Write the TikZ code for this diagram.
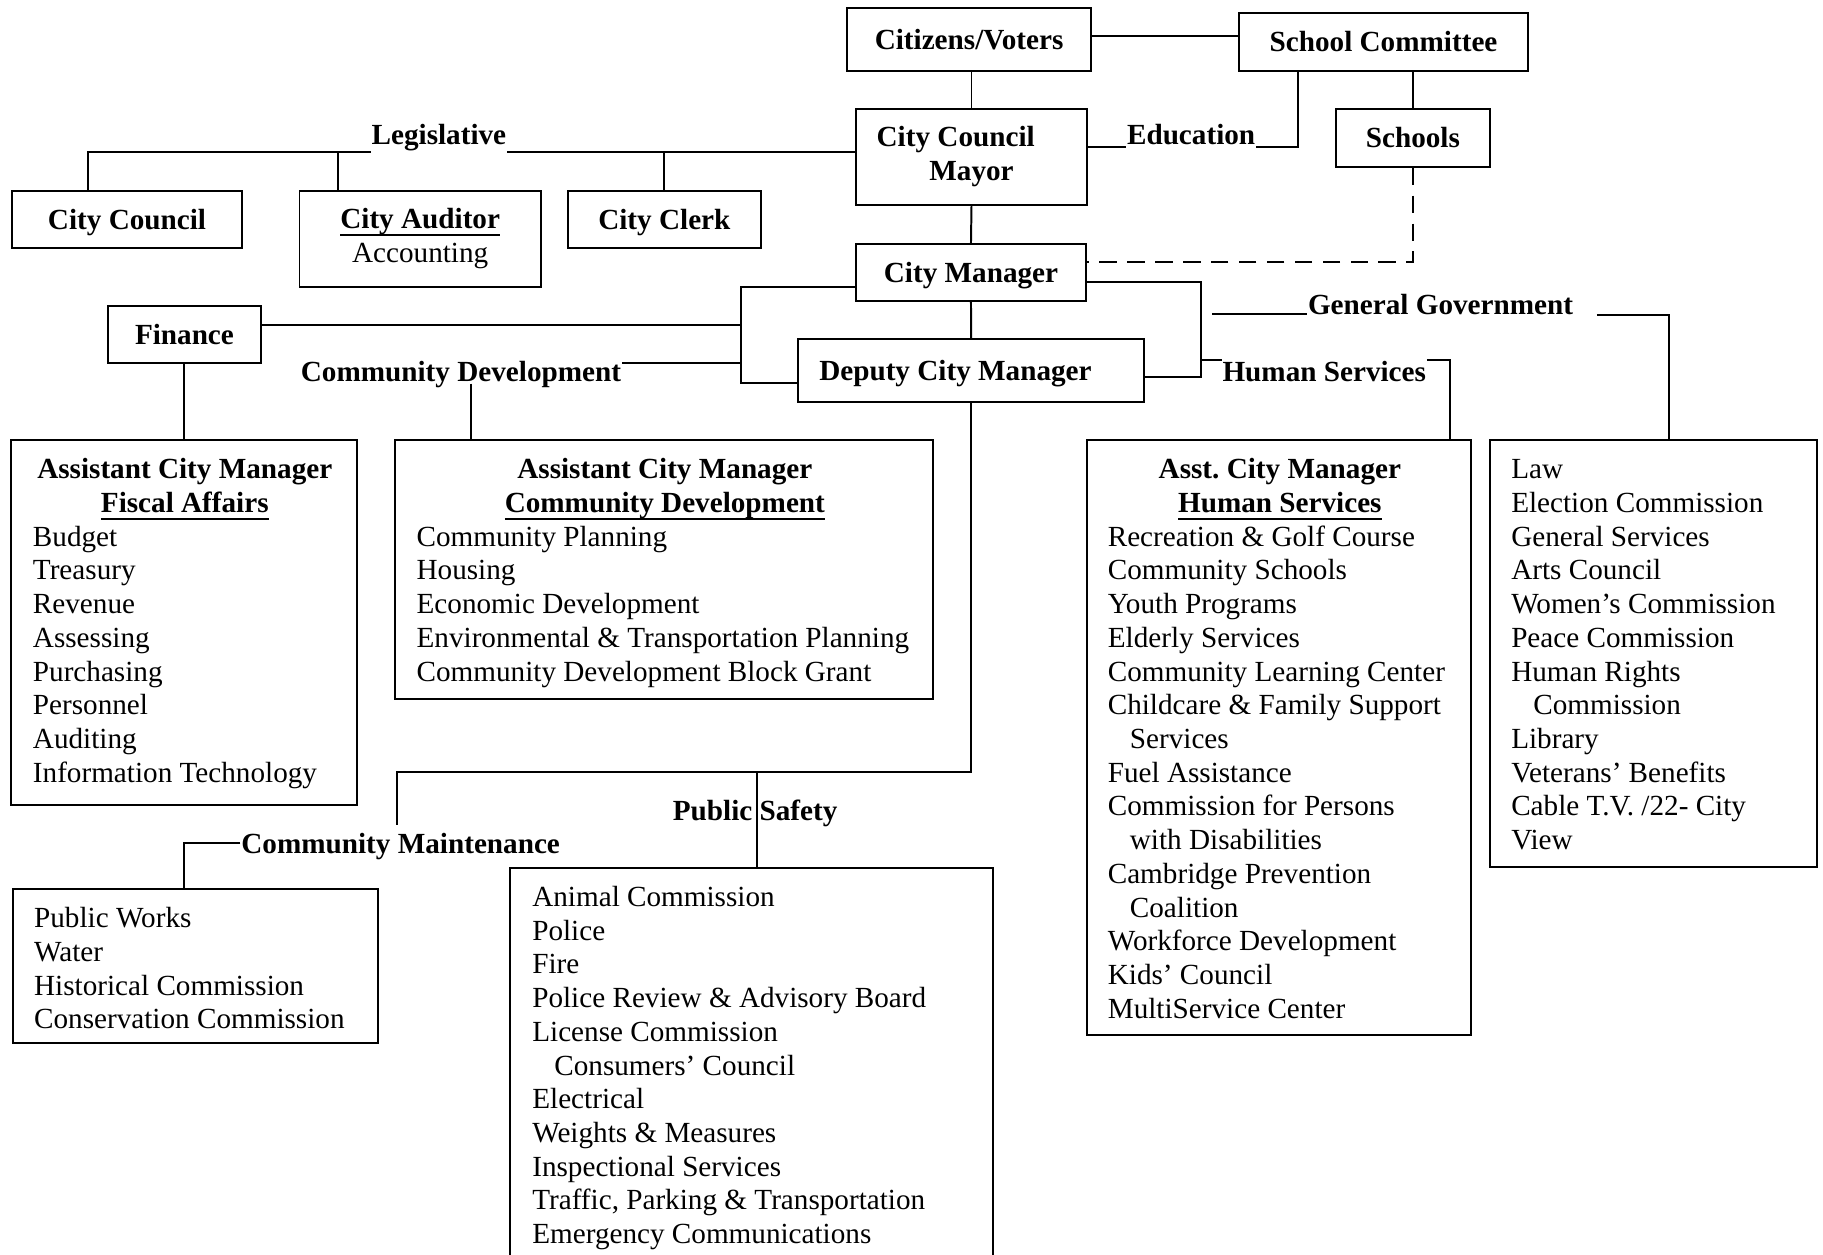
\documentclass[tikz,border=0pt]{standalone}
\usepackage{fontspec}
\setmainfont{Liberation Serif}
\newcommand\ulbox[1]{\begingroup\setbox0=\hbox{#1}\rlap{\vrule height -2.2pt depth 3.2pt width \wd0}\box0\endgroup}
\newcommand\bodyfont{\fontsize{12.55}{14.5}\selectfont\frenchspacing}
\newcommand\indsp{\hspace*{9.5pt}}
\begin{document}
\begin{tikzpicture}[x=0.5pt,y=-0.5pt,line width=0.85pt,
  box/.style={draw,rectangle,inner sep=0pt,font=\bodyfont\bfseries},
  sbox/.style={box,text height=11.5pt,text depth=3pt},
  lbl/.style={inner sep=0pt,anchor=base,font=\bodyfont\bfseries},
  listtxt/.style={inner sep=0pt,anchor=north west,align=left,font=\bodyfont},
  conn/.style={draw,line width=0.85pt},
  dashconn/.style={conn,dash pattern=on 7.5pt off 4.5pt}]
\useasboundingbox (0,0) rectangle (1568,1079);
\clip (0,0) rectangle (1568,1079);

% ---------- top boxes ----------
\node[sbox,minimum width=105pt,minimum height=26.9pt] (cit) at (833.5,33.9) {Citizens/Voters};
\node[sbox,minimum width=124pt,minimum height=24.65pt] (sc) at (1190,36.15) {School Committee};
\node[box,align=center,minimum width=99.1pt,minimum height=41.25pt] (ccm) at (835.6,135.05) {\strut City Council\kern13.6pt\\\strut Mayor};
\node[sbox,minimum width=66.25pt,minimum height=24.8pt] (sch) at (1215.25,118.6) {Schools};
\node[sbox,minimum width=98.75pt,minimum height=24.8pt] (cc) at (109.25,188.8) {City Council};
\node[box,align=center,minimum width=103.8pt,minimum height=41.3pt] (aud) at (361.4,205.3) {\strut\ulbox{City Auditor}\\\strut{\mdseries Accounting}};
\node[sbox,minimum width=82.9pt,minimum height=24.8pt] (clk) at (571.4,188.8) {City Clerk};
\node[sbox,minimum width=99.15pt,minimum height=24.5pt] (cm) at (835.15,234.4) {City Manager};
\node[sbox,minimum width=66.05pt,minimum height=24.8pt] (fin) at (158.65,287.7) {Finance};
\node[sbox,minimum width=148.6pt,minimum height=26.85pt] (dcm) at (835.3,318.75) {Deputy City Manager\kern13.5pt};

% ---------- labels ----------
\node[lbl] (leg) at (377.5,124.7) {Legislative};
\node[lbl] (edu) at (1024.5,124.7) {Education};
\node[lbl] (ggl) at (1239,270.4) {General Government};
\node[lbl] (cdl) at (396.5,328.3) {Community Development};
\node[lbl] (hsl) at (1139,328.5) {Human Services};
\node[lbl] (psl) at (649.5,705.3) {Public Safety};
\node[lbl] (cml) at (344.6,734) {Community Maintenance};

% ---------- big boxes ----------
\node[box,minimum width=148.75pt,minimum height=156.95pt] (fisc) at (158.35,535.45) {};
\node[box,minimum width=231.2pt,minimum height=111.5pt] (cd) at (571.3,490) {};
\node[box,minimum width=165.15pt,minimum height=255.75pt] (hs) at (1099.85,634.25) {};
\node[box,minimum width=140.5pt,minimum height=183.5pt] (gg) at (1422.1,562) {};
\node[box,minimum width=156.9pt,minimum height=66.1pt] (cmn) at (167.9,830.8) {};
\node[box,minimum width=207.55pt,minimum height=171.85pt] (ps) at (646.3,918.15) {};

\node[listtxt] (fisct) at (27.5,390.7) {\strut\makebox[130.6pt]{\bfseries Assistant City Manager}\\
\makebox[130.6pt]{\bfseries\ulbox{Fiscal Affairs}}\\
Budget\\Treasury\\Revenue\\Assessing\\Purchasing\\Personnel\\Auditing\\Information Technology};

\node[listtxt] (cdt) at (357.5,390.7) {\strut\makebox[213.5pt]{\bfseries Assistant City Manager}\\
\makebox[213.5pt]{\bfseries\ulbox{Community Development}}\\
Community Planning\\Housing\\Economic Development\\Environmental \& Transportation Planning\\Community Development Block Grant};

\node[listtxt] (hst) at (952,390.7) {\strut\makebox[148pt]{\bfseries Asst. City Manager}\\
\makebox[148pt]{\bfseries\ulbox{Human Services}}\\
Recreation \& Golf Course\\Community Schools\\Youth Programs\\Elderly Services\\Community Learning Center\\
Childcare \& Family Support\\\indsp Services\\Fuel Assistance\\Commission for Persons\\\indsp with Disabilities\\
Cambridge Prevention\\\indsp Coalition\\Workforce Development\\Kids’ Council\\MultiService Center};

\node[listtxt] (ggt) at (1299,390.7) {\strut Law\\Election Commission\\General Services\\Arts Council\\Women’s Commission\\
Peace Commission\\Human Rights\\\indsp Commission\\Library\\Veterans’ Benefits\\Cable T.V. /22- City\\View};

\node[listtxt] (cmnt) at (28.5,776.9) {\strut Public Works\\Water\\Historical Commission\\Conservation Commission};

\node[listtxt] (pst) at (457,758.5) {\strut Animal Commission\\Police\\Fire\\Police Review \& Advisory Board\\License Commission\\
\indsp Consumers’ Council\\Electrical\\Weights \& Measures\\Inspectional Services\\Traffic, Parking \& Transportation\\Emergency Communications};

% ---------- named free ends ----------
\coordinate (ggA) at (1042.6,270.4);
\coordinate (ggB) at (1373.4,271.2);
\coordinate (cmEnd) at (341.2,709.6);
\coordinate (psJ) at (651,663.8);
\coordinate (cdJ) at (405,330);

% ---------- connectors ----------
\draw[conn] (cit.east |- 0,30.7) -- (sc.west |- 0,30.7);
\draw[conn] (ccm.north |- cit.south) -- (ccm.north);
\draw[conn] (ccm.east |- 0,126.2) -- (edu.west |- 0,126.2);
\draw[conn] (edu.east |- 0,126.2) -- (1116.4,126.2) -- (1116.4,0 |- sc.south);
\draw[conn] (sch.north |- sc.south) -- (sch.north);
\draw[dashconn] (sch.south) -- (sch.south |- 0,225.6) -- (cm.east |- 0,225.6);
\draw[conn] (ccm.south) -- (cm.north);
% legislative
\draw[conn] (ccm.west |- 0,131) -- (leg.east |- 0,131);
\draw[conn] (leg.west |- 0,131) -- (75.5,131) -- (75.5,0 |- cc.north);
\draw[conn] (290.5,131) -- (290.5,0 |- aud.north);
\draw[conn] (571.4,131) -- (clk.north);
% manager
\draw[conn] (cm.south) -- (dcm.north);
\draw[conn] (cm.west |- 0,246.6) -- (637.4,246.6) -- (637.4,329.2) -- (dcm.west |- 0,329.2);
\draw[conn] (fin.east |- 0,279.6) -- (637.4,279.6);
\draw[conn] (cdl.east |- 0,312.5) -- (637.4,312.5);
\draw[conn] (cdJ) -- (cdJ |- cd.north);
\draw[conn] (fin.south) -- (fin.south |- fisc.north);
\draw[conn] (cm.east |- 0,242.6) -- (1033.2,242.6) -- (1033.2,324.6) -- (dcm.east |- 0,324.6);
\draw[conn] (1033.2,309.7) -- (hsl.west |- 0,309.7);
\draw[conn] (hsl.east |- 0,309.7) -- (1247.5,309.7) -- (1247.5,0 |- hs.north);
\draw[conn] (ggA) -- (ggl.west |- ggA);
\draw[conn] (ggB) -- (1435.3,271.2) -- (1435.3,0 |- gg.north);
% deputy down
\draw[conn] (dcm.south) -- (dcm.south |- psJ) -- (cmEnd |- psJ) -- (cmEnd);
\draw[conn] (psJ) -- (psJ |- ps.north);
\draw[conn] (cml.west |- 0,725.4) -- (158.5,725.4) -- (158.5,0 |- cmn.north);
\end{tikzpicture}
\end{document}
